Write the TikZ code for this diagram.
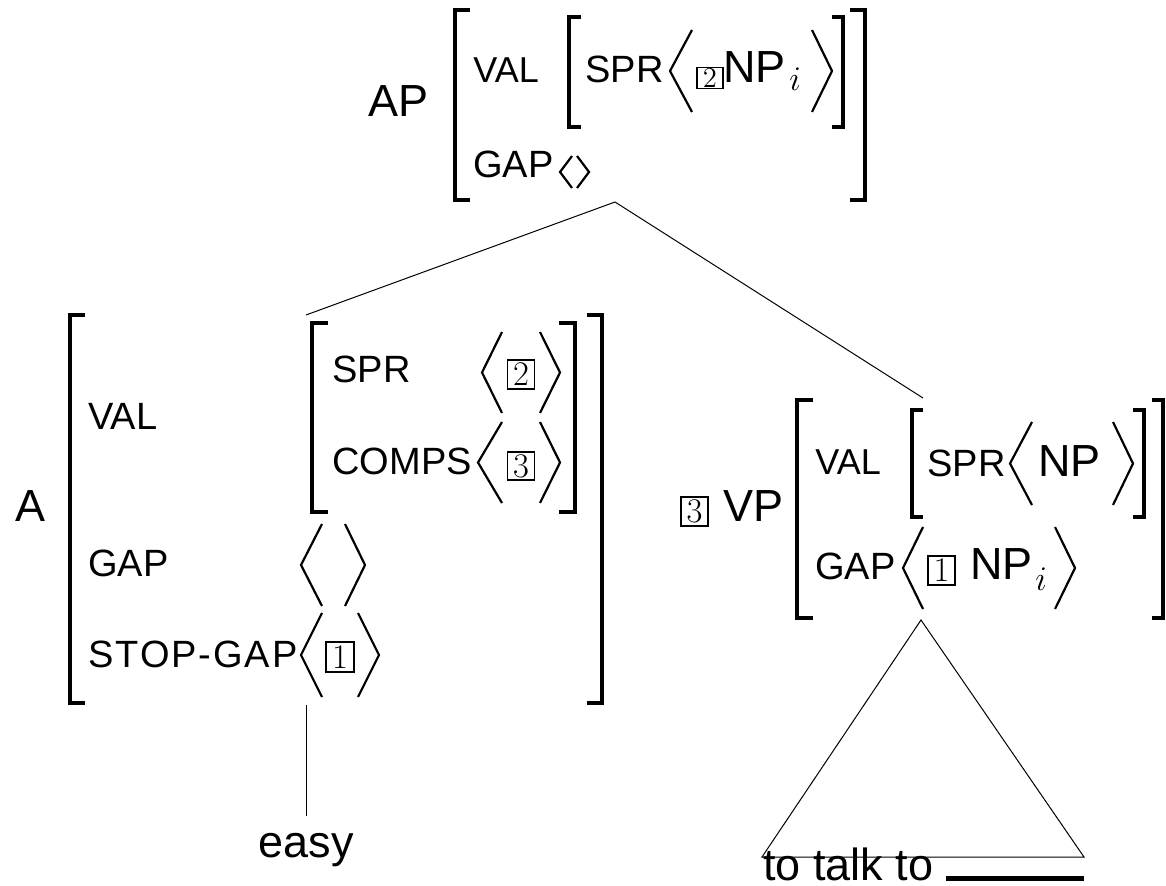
\documentclass[tikz,border=0pt]{standalone}
\usepackage{fontspec}
\setmainfont{Liberation Sans}
% square bracket: vertical stroke x, serif end x, top y, bottom y
\newcommand\avmbrack[4]{\draw[brk] (#2,#3) -- (#1,#3) -- (#1,#4) -- (#2,#4);}
% angle bracket: tip x, open end x, top y, bottom y
\newcommand\avmangle[4]{\draw[ang] (#2,#3) -- (#1,{(#3+#4)/2}) -- (#2,#4);}
\begin{document}
\begin{tikzpicture}[x=0.5pt,y=-0.5pt,
  brk/.style={line width=1.9pt, line join=miter},
  ang/.style={line width=1.1pt, line join=miter},
  branch/.style={line width=0.5pt},
  cat/.style={font=\fontsize{22.5}{27}\selectfont, anchor=base west, inner sep=0pt},
  feat/.style={font=\fontsize{19}{23}\selectfont, anchor=base west, inner sep=0pt},
  smallfeat/.style={font=\fontsize{18}{22}\selectfont, anchor=base west, inner sep=0pt},
  idx/.style={anchor=base west, inner sep=0pt},
  tagbox/.style={draw, line width=0.9pt, inner sep=0pt, minimum width=13.5pt, minimum height=14.5pt,
                 font=\fontsize{16}{16}\selectfont}]
\useasboundingbox (0,0) rectangle (1166,886);

% ---------- mother: AP ----------
\node[cat] (ap) at (368,117) {AP};
\avmbrack{455}{470}{10}{200}
\avmbrack{865}{850}{10}{200}
\node[smallfeat] (apval) at (473,83) {VAL};
\avmbrack{569}{581}{17}{127}
\avmbrack{843}{832}{17}{127}
\node[feat] (apspr) at (585,83) {SPR};
\avmangle{670}{692}{30}{112}
\node[tagbox, minimum width=13pt, minimum height=10.5pt, font=\fontsize{14}{14}\selectfont] (aptag) at (710,78) {$2$};
\node[cat] (apnp) at (723,83) {NP};
\node[idx, font=\fontsize{16}{16}\selectfont] (api) at (789,91) {$i$};
\avmangle{832}{812}{30}{112}
\node[feat] (apgap) at (473,178) {GAP};
\avmangle{560}{572}{156}{188}
\avmangle{589}{577}{156}{188}

% ---------- left daughter: A ----------
\node[cat] (a) at (15,522) {A};
\avmbrack{70}{85}{315}{703}
\avmbrack{602}{587}{315}{703}
\node[feat] (aval) at (88,430) {VAL};
\avmbrack{312}{328}{323}{512}
\avmbrack{575}{559}{323}{512}
\node[feat] (aspr) at (332,383) {SPR};
\avmangle{482}{502}{332}{413}
\node[tagbox, minimum height=14.5pt] (atag2) at (521,374.5) {$2$};
\avmangle{560}{540}{332}{413}
\node[feat] (acomps) at (332,475) {COMPS};
\avmangle{478}{502}{422}{503}
\node[tagbox, minimum height=14pt] (atag3) at (521,466) {$3$};
\avmangle{560}{540}{422}{503}
\node[feat] (agap) at (88,577) {GAP};
\avmangle{301}{322}{524}{606}
\avmangle{365}{345}{524}{606}
\node[feat] (astop) at (88,667) {\addfontfeatures{LetterSpace=5}STOP-GAP};
\avmangle{301}{322}{613}{697}
\node[tagbox, minimum width=14pt, minimum height=15pt] (atag1) at (340,657) {$1$};
\avmangle{379}{358}{613}{697}

% ---------- right daughter: VP ----------
\node[tagbox] (vptag) at (694.5,511.5) {$3$};
\node[cat] (vp) at (723,522) {VP};
\avmbrack{797}{813}{400}{618}
\avmbrack{1163}{1152}{400}{618}
\node[smallfeat] (vpval) at (815,475) {VAL};
\avmbrack{912}{923}{410}{517}
\avmbrack{1144}{1133}{410}{517}
\node[feat] (vpspr) at (927,477) {SPR};
\avmangle{1010}{1032}{422}{505}
\node[cat] (vpnp) at (1038,477) {NP};
\avmangle{1133}{1113}{422}{505}
\node[feat] (vpgap) at (815,580) {GAP};
\avmangle{903}{923}{527}{609}
\node[tagbox] (vptag1) at (941.5,570.5) {$1$};
\node[cat] (vpgnp) at (970,580) {NP};
\node[idx, font=\fontsize{18}{18}\selectfont] (vpi) at (1035,591) {$i$};
\avmangle{1075}{1055}{527}{609}

% ---------- tree branches ----------
\coordinate (apfoot) at (615,202);
\coordinate (atop) at (306,315);
\coordinate (vptop) at (923,398);
\draw[branch] (apfoot) -- (atop);
\draw[branch] (apfoot) -- (vptop);

\coordinate (afoot) at (306,705);
\node[font=\fontsize{22.5}{27}\selectfont, anchor=base, inner sep=0pt] (easy) at (306,857) {easy};
\coordinate (easytop) at (306,816);
\draw[branch] (afoot) -- (easytop);

\coordinate (tritop) at (921,620);
\coordinate (trileft) at (762,857);
\coordinate (triright) at (1084,857);
\draw[branch] (tritop) -- (trileft) -- (triright) -- cycle;
\node[cat] (ttt) at (763,880) {to talk to \rule[-0.5pt]{69pt}{2.5pt}};
\end{tikzpicture}
\end{document}
